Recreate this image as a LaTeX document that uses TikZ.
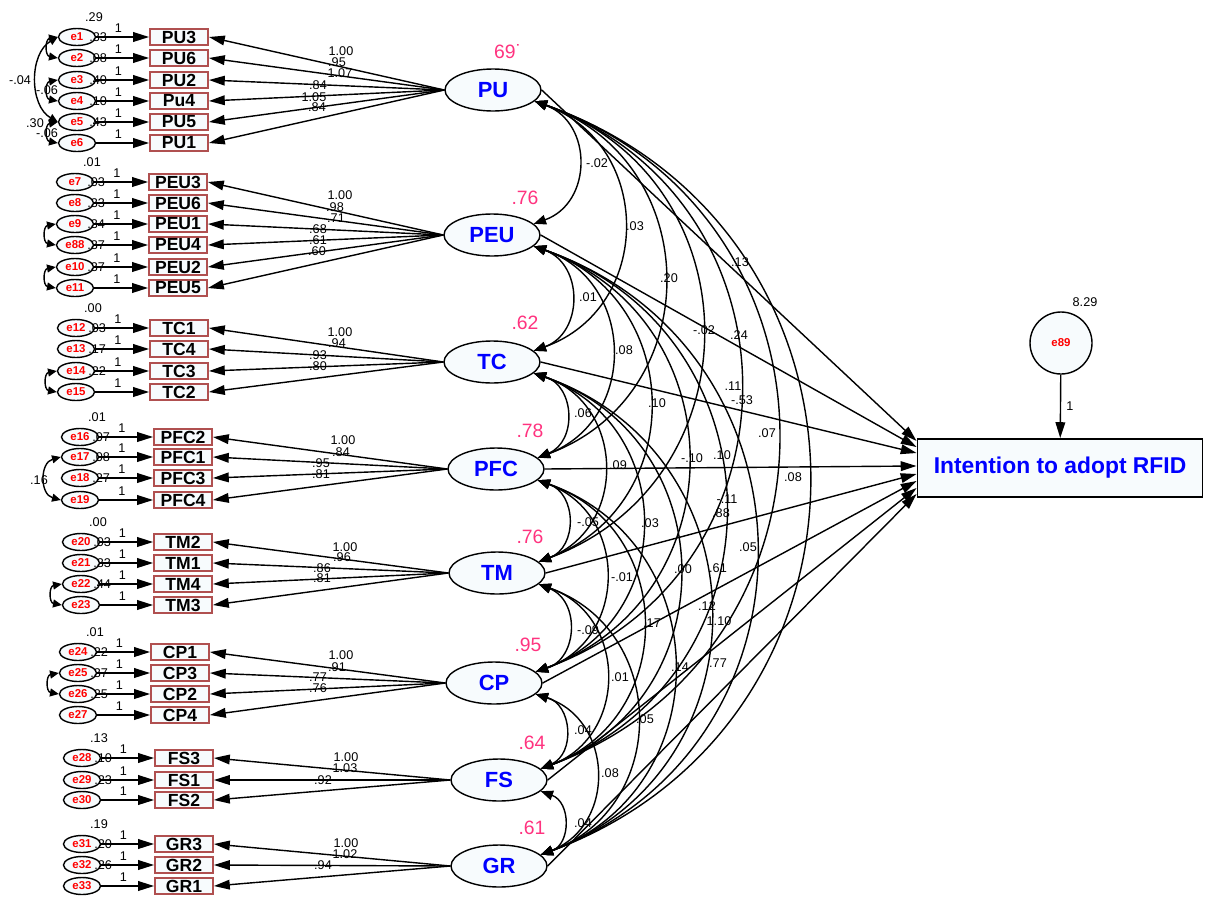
\documentclass[tikz,border=0pt]{standalone}
\usepackage{fontspec}
\setmainfont{Liberation Sans}
\usetikzlibrary{calc,arrows.meta,shapes.geometric}

\definecolor{boxred}{RGB}{176,80,80}
\definecolor{cellfill}{RGB}{247,251,253}
\definecolor{rsqpink}{RGB}{255,51,127}
\newlength\upx
\setlength\upx{0.02cm}

\tikzset{
  ind/.style={draw=boxred,line width=1.1pt,fill=cellfill,minimum width=58\upx,minimum height=16\upx,inner sep=0pt,font=\fontsize{10}{10}\selectfont\bfseries},
  lat/.style={ellipse,draw,line width=.8pt,fill=cellfill,minimum width=96\upx,minimum height=42\upx,inner sep=0pt,text=blue,font=\fontsize{12.5}{12.5}\selectfont\bfseries},
  err/.style={ellipse,draw,line width=.8pt,fill=cellfill,minimum width=37\upx,minimum height=17\upx,inner sep=0pt,text=red,font=\fontsize{6.5}{6.5}\selectfont\bfseries},
  num/.style={inner sep=0pt,font=\fontsize{7.2}{7.2}\selectfont},
  rsq/.style={inner sep=0pt,text=rsqpink,font=\fontsize{11}{11}\selectfont},
  reg/.style={line width=.8pt,-{Triangle[length=9pt,width=5.5pt]}},
  cov/.style={line width=.8pt,{Triangle[length=7pt,width=5.5pt]}-{Triangle[length=7pt,width=5.5pt]}},
  ecov/.style={line width=.8pt,{Triangle[length=5pt,width=4.5pt]}-{Triangle[length=5pt,width=4.5pt]}},
}

\begin{document}
\begin{tikzpicture}[x=0.02cm,y=-0.02cm]
\useasboundingbox (0,0) rectangle (1206,896);

% latent factors
\foreach \lv/\x/\y in {PU/493/90,PEU/492/235,TC/492/362,PFC/496/469,TM/497/573,CP/494/683,FS/499/780,GR/499/866}
  \node[lat] (\lv) at (\x,\y) {\lv};

% indicators with their errors
\foreach \ind/\bx/\en/\ex/\y/\lv in {
  PU3/179/e1/77/37/PU,PU6/179/e2/77/58/PU,PU2/179/e3/77/80/PU,Pu4/179/e4/77/101/PU,PU5/179/e5/77/122/PU,PU1/179/e6/77/143/PU,
  PEU3/178/e7/75/182/PEU,PEU6/178/e8/75/203/PEU,PEU1/178/e9/75/224/PEU,PEU4/178/e88/75/245/PEU,PEU2/178/e10/75/267/PEU,PEU5/178/e11/75/288/PEU,
  TC1/179/e12/76/328/TC,TC4/179/e13/76/349/TC,TC3/179/e14/76/371/TC,TC2/179/e15/76/392/TC,
  PFC2/183/e16/80/437/PFC,PFC1/183/e17/80/457/PFC,PFC3/183/e18/80/478/PFC,PFC4/183/e19/80/500/PFC,
  TM2/183/e20/81/542/TM,TM1/183/e21/81/563/TM,TM4/183/e22/81/584/TM,TM3/183/e23/81/605/TM,
  CP1/180/e24/78/652/CP,CP3/180/e25/78/673/CP,CP2/180/e26/78/694/CP,CP4/180/e27/78/715/CP,
  FS3/184/e28/82/758/FS,FS1/184/e29/82/780/FS,FS2/184/e30/82/800/FS,
  GR3/184/e31/82/844/GR,GR2/184/e32/82/865/GR,GR1/184/e33/82/886/GR}{
  \node[ind] (\ind) at (\bx,\y) {\ind};
  \node[err] (\en) at (\ex,\y) {\en};
  \draw[reg] (\en) -- node[num,pos=.42,above=2pt] (w\en) {1} (\ind);
  \draw[reg] (\lv.west) -- (\ind.east);
}

% variances of the errors
\foreach \en/\t in {e1/.33,e2/.08,e3/.40,e4/.10,e5/.43,e7/.03,e8/.33,e9/.34,e88/.37,e10/.37,e12/.03,e13/.17,e14/.22,
  e16/.07,e17/.08,e18/.27,e20/.03,e21/.33,e22/.44,e24/.22,e25/.37,e26/.25,e28/.10,e29/.23,e31/.20,e32/.26}
  \node[num] (v\en) at ($(\en.east)+(2,0)$) {\t};
\foreach \en/\t in {e1/.29,e7/.01,e12/.00,e16/.01,e20/.00,e24/.01,e28/.13,e31/.19}
  \node[num] (t\en) at ($(\en)+(17,-20)$) {\t};

% error covariances
\node[num] (k1) at (20,80) {-.04};
\node[num] (k2) at (47,90) {-.06};
\node[num] (k3) at (47,133) {-.06};
\node[num] (k4) at (35,123) {.30};
\node[num] (k5) at (39,480) {.16};
\foreach \a/\b in {e1/e2,e3/e4,e5/e6,e9/e88,e10/e11,e14/e15,e22/e23,e25/e26}
  \draw[ecov] (\a.west) to[bend right=80,looseness=1.6] (\b.west);
\draw[ecov] (e1.west) to[bend right=60] (e5.west);
\draw[ecov] (e17.west) to[bend right=75,looseness=1.3] (e19.west);

% loadings
\foreach \x/\y/\t [count=\i] in {341/51/1.00,337/62/.95,340/73/1.07,318/85/.84,314/97/1.05,317/107/.84,
  340/195/1.00,335/207/.98,336/218/.71,318/229/.68,318/240/.61,317/251/.60,
  340/332/1.00,337/343/.94,318/355/.93,318/366/.80,
  343/440/1.00,341/452/.84,321/463/.95,321/474/.81,
  345/547/1.00,342/557/.96,322/568/.86,322/578/.81,
  341/655/1.00,337/667/.91,318/677/.77,318/688/.76,
  346/757/1.00,345/768/1.03,323/780/.92,
  346/843/1.00,345/854/1.02,323/865/.94}
  \node[num] (ld\i) at (\x,\y) {\t};

% squared multiple correlations
\foreach \x/\y/\t [count=\i] in {508/52/69˙,525/198/.76,525/323/.62,530/431/.78,530/537/.76,528/645/.95,532/743/.64,532/828/.61}
  \node[rsq] (r\i) at (\x,\y) {\t};

% outcome
\node[draw,line width=1.1pt,fill=cellfill,minimum width=285\upx,minimum height=58\upx,inner sep=0pt,text=blue,
  font=\fontsize{13}{13}\selectfont\bfseries] (IA) at (1060,468) {Intention to adopt RFID};
\node[circle,draw,line width=.8pt,fill=cellfill,minimum size=62\upx,inner sep=0pt,text=red,
  font=\fontsize{6.5}{6.5}\selectfont\bfseries] (e89) at (1061,343) {e89};
\node[num] (v89) at (1085,302) {8.29};
\draw[reg] (e89) -- node[num,right=3pt] (w89) {1} (IA);

\foreach \lv/\dy in {PU/-27,PEU/-21,TC/-15,PFC/-2,TM/6,CP/13,FS/20,GR/26}{
  \coordinate (a\lv) at ($(IA.west)+(0,\dy)$);
  \draw[reg] (\lv.east) -- (a\lv);
}

% covariances among factors
\foreach \a/\b in {PU/PEU,PU/TC,PU/PFC,PU/TM,PU/CP,PU/FS,PU/GR,PEU/TC,PEU/PFC,PEU/TM,PEU/CP,PEU/FS,PEU/GR,
  TC/PFC,TC/TM,TC/CP,TC/FS,TC/GR,PFC/TM,PFC/CP,PFC/FS,PFC/GR,TM/CP,TM/FS,TM/GR,CP/FS,CP/GR,FS/GR}
  \draw[cov] (\a.-15) to[bend left=70,looseness=1.3] (\b.15);

\foreach \x/\y/\t [count=\i] in {597/163/-.02,635/226/.03,669/278/.20,740/262/.13,739/335/.24,588/297/.01,624/350/.08,
  704/330/-.02,733/386/.11,742/400/-.53,583/413/.06,657/403/.10,722/455/.10,767/433/.07,618/465/.09,692/458/-.10,
  793/477/.08,588/522/-.05,650/523/.03,727/499/-.11,721/513/.88,748/547/.05,683/569/.00,718/568/.61,622/577/-.01,
  588/630/-.09,652/623/.17,707/606/.12,719/621/1.10,718/663/.77,680/667/.14,620/677/.01,645/719/.05,583/730/.04,
  610/773/.08,583/823/.04}
  \node[num] (c\i) at (\x,\y) {\t};
\end{tikzpicture}
\end{document}
